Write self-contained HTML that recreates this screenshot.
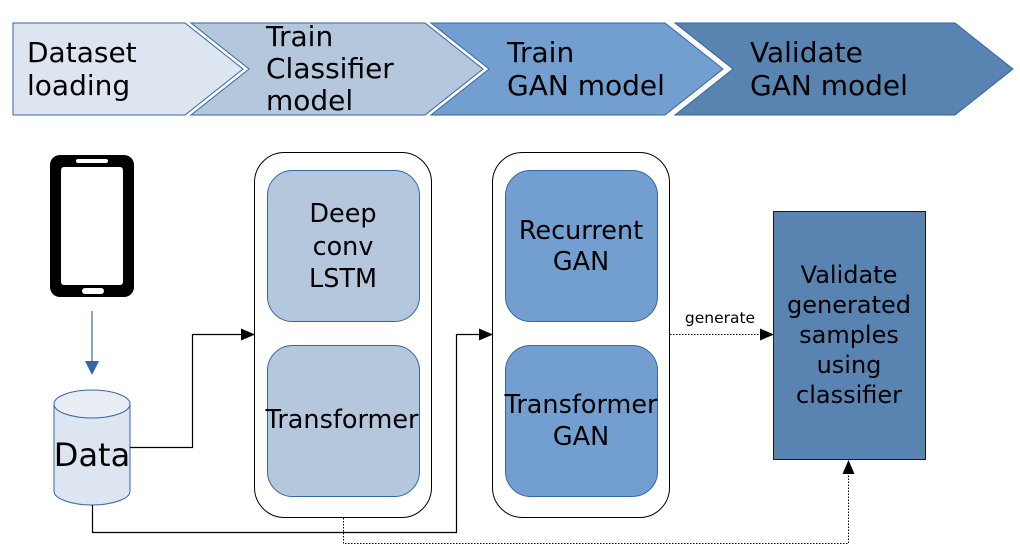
<!DOCTYPE html>
<html><head><meta charset="utf-8"><style>
html,body{margin:0;padding:0;background:#fff;}
svg{display:block;font-family:"DejaVu Sans","Liberation Sans",sans-serif;}
</style></head><body>
<svg width="1020" height="554" viewBox="0 0 1020 554" xmlns="http://www.w3.org/2000/svg">
<defs>
<marker id="ah" markerWidth="14" markerHeight="12" refX="13" refY="6" orient="auto" markerUnits="userSpaceOnUse">
<path d="M0,0 L14,6 L0,12 z" fill="#000"/></marker>
<marker id="ahb" markerWidth="14" markerHeight="14" refX="13" refY="7" orient="auto" markerUnits="userSpaceOnUse">
<path d="M0,0 L14,7 L0,14 z" fill="#3465a4"/></marker>
</defs>
<path d="M13,23 L185,23 L243,69 L185,115 L13,115 Z" fill="#dde6f0" stroke="#3465a4" stroke-width="1"/>
<path d="M191,23 L425,23 L483,69 L425,115 L191,115 L249,69 Z" fill="#b4c7dd" stroke="#3465a4" stroke-width="1"/>
<path d="M431,23 L665,23 L723,69 L665,115 L431,115 L489,69 Z" fill="#729fcf" stroke="#3465a4" stroke-width="1"/>
<path d="M675,23 L955,23 L1013,69 L955,115 L675,115 L733,69 Z" fill="#5983b0" stroke="#3465a4" stroke-width="1"/>
<g font-size="28" fill="#000">
<text x="27" y="62">Dataset</text><text x="27" y="95">loading</text>
<text x="266" y="46">Train</text><text x="266" y="78">Classifier</text><text x="266" y="110">model</text>
<text x="507" y="62">Train</text><text x="507" y="95">GAN model</text>
<text x="750" y="62">Validate</text><text x="750" y="95">GAN model</text>
</g>
<rect x="50" y="155" width="84" height="142" rx="10" fill="#000"/>
<rect x="61" y="167" width="62" height="118" rx="3" fill="#fff"/>
<rect x="76" y="159" width="32" height="4" rx="2" fill="#fff"/>
<rect x="82" y="288" width="22" height="6" rx="3" fill="#fff"/>
<line x1="92" y1="311" x2="92" y2="374" stroke="#3465a4" stroke-width="1.2" marker-end="url(#ahb)"/>
<path d="M54,404 L54,491 A38,14 0 0 0 130,491 L130,404" fill="#dde6f0" stroke="#3465a4" stroke-width="1"/>
<ellipse cx="92" cy="404" rx="38" ry="14" fill="#e8eef4" stroke="#3465a4" stroke-width="1"/>
<text x="92" y="466" font-size="32" text-anchor="middle">Data</text>
<rect x="254.5" y="152.5" width="177" height="365" rx="30" fill="#fff" stroke="#000" stroke-width="1"/>
<rect x="267.5" y="170.5" width="152" height="151" rx="25" fill="#b4c7dd" stroke="#3465a4" stroke-width="1"/>
<rect x="267.5" y="345.5" width="152" height="151" rx="25" fill="#b4c7dd" stroke="#3465a4" stroke-width="1"/>
<rect x="492.5" y="152.5" width="177" height="365" rx="30" fill="#fff" stroke="#000" stroke-width="1"/>
<rect x="505.5" y="170.5" width="152" height="151" rx="25" fill="#729fcf" stroke="#3465a4" stroke-width="1"/>
<rect x="505.5" y="345.5" width="152" height="151" rx="25" fill="#729fcf" stroke="#3465a4" stroke-width="1"/>
<g font-size="25.5" text-anchor="middle" fill="#000">
<text x="343" y="222">Deep</text><text x="343" y="255">conv</text><text x="343" y="287">LSTM</text>
<text x="342" y="428">Transformer</text>
<text x="581" y="239">Recurrent</text><text x="581" y="270">GAN</text>
<text x="581" y="413">Transformer</text><text x="581" y="445">GAN</text>
</g>
<rect x="773.5" y="211.5" width="152" height="248" fill="#5983b0" stroke="#1a1a1a" stroke-width="1"/>
<g font-size="24" text-anchor="middle" fill="#000">
<text x="849" y="283">Validate</text><text x="849" y="313">generated</text><text x="849" y="343">samples</text><text x="849" y="373">using</text><text x="849" y="403">classifier</text>
</g>
<polyline points="130,447.5 192.5,447.5 192.5,334.5 254,334.5" fill="none" stroke="#000" stroke-width="1.2" marker-end="url(#ah)"/>
<polyline points="92.5,505 92.5,532.5 456.5,532.5 456.5,334.5 492,334.5" fill="none" stroke="#000" stroke-width="1.2" marker-end="url(#ah)"/>
<polyline points="343.5,518 343.5,543.5 848.5,543.5 848.5,461" fill="none" stroke="#000" stroke-width="1" stroke-dasharray="1.5,1.5" marker-end="url(#ah)"/>
<line x1="670" y1="334.5" x2="773" y2="334.5" stroke="#000" stroke-width="1" stroke-dasharray="1.5,1.5" marker-end="url(#ah)"/>
<text x="720" y="323" font-size="15.5" text-anchor="middle">generate</text>
</svg>
</body></html>
